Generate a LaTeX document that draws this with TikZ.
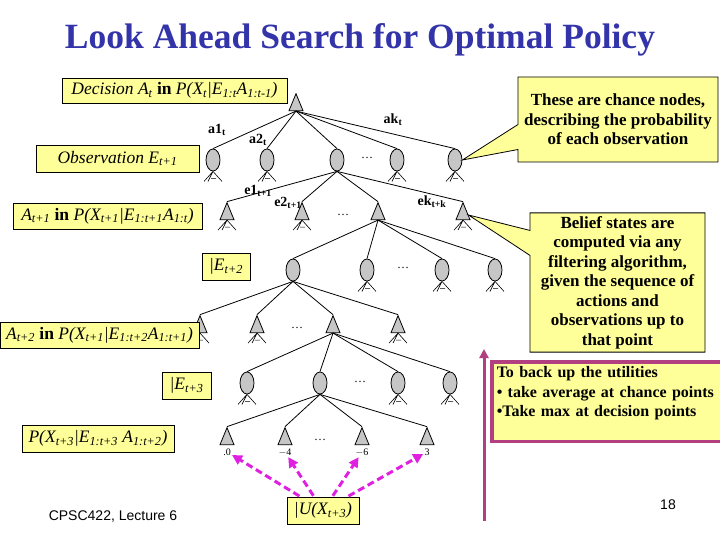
\documentclass[tikz,border=0pt]{standalone}
\usepackage{fontspec}
\setmainfont{Liberation Serif}
\setsansfont{Liberation Sans}
\usetikzlibrary{shapes.geometric,shapes.callouts,positioning,arrows.meta}
\definecolor{notefill}{RGB}{255,255,153}
\definecolor{titleblue}{RGB}{51,51,170}
\definecolor{backmag}{RGB}{224,32,224}
\definecolor{backplum}{RGB}{178,64,128}
\newcommand{\sub}[1]{\textsubscript{#1}}
\tikzset{
  decision/.style={isosceles triangle, shape border rotate=90, isosceles triangle stretches,
    minimum width=14pt, minimum height=17pt, draw, fill=gray!45, inner sep=0pt},
  chance/.style={ellipse, draw, fill=gray!45, minimum width=14pt, minimum height=22pt, inner sep=0pt},
  notebox/.style={draw, fill=notefill, inner sep=0pt, font=\fontsize{17.5}{20}\selectfont\itshape},
  notecall/.style={rectangle callout, draw, fill=notefill, align=center, callout pointer width=25pt,
    font=\fontsize{17}{19.5}\selectfont\bfseries},
  edgelab/.style={font=\fontsize{14}{16}\selectfont\bfseries, inner sep=0pt},
  moredots/.style={font=\fontsize{12}{14}\selectfont, inner sep=0pt},
  leafval/.style={font=\fontsize{10}{12}\selectfont, inner sep=0pt},
  backup/.style={backmag, line width=3pt, dash pattern=on 7pt off 4pt,
    -{Triangle[length=10pt,width=10pt]}, shorten >=1pt, shorten <=1pt}
}
\begin{document}
\begin{tikzpicture}[x=1pt,y=-1pt,line width=0.8pt]
\useasboundingbox (0,0) rectangle (720,540);
\node (title) at (360,40) [font=\fontsize{35.5}{40}\selectfont\bfseries, text=titleblue] {Look Ahead Search for Optimal Policy};
% decision tree
\node (r) at (296,106) [decision] {};
\node (c1) at (213,160) [chance] {};
\node (c2) at (267,160) [chance] {};
\node (c3) at (337,160) [chance] {};
\node (c4) at (397,160) [chance] {};
\node (c5) at (455,160) [chance] {};
\node (t1) at (227,215) [decision] {};
\node (t2) at (302,215) [decision] {};
\node (t3) at (378,215) [decision] {};
\node (t4) at (463,215) [decision] {};
\node (s1) at (293,270) [chance] {};
\node (s2) at (367,270) [chance] {};
\node (s3) at (442,270) [chance] {};
\node (s4) at (495,270) [chance] {};
\node (u1) at (200,328) [decision] {};
\node (u2) at (257,328) [decision] {};
\node (u3) at (333,328) [decision] {};
\node (u4) at (398,328) [decision] {};
\node (v1) at (247,383) [chance] {};
\node (v2) at (320,383) [chance] {};
\node (v3) at (398,383) [chance] {};
\node (v4) at (450,383) [chance] {};
\node (w1) at (227,440) [decision] {};
\node (w2) at (285,440) [decision] {};
\node (w3) at (362,440) [decision] {};
\node (w4) at (427,440) [decision] {};
\node (dots1) at (367,158) [moredots] {\dots};
\node (dots2) at (343,215) [moredots] {\dots};
\node (dots3) at (403,268) [moredots] {\dots};
\node (dots4) at (297,328) [moredots] {\dots};
\node (dots5) at (360,382) [moredots] {\dots};
\node (dots6) at (320,440) [moredots] {\dots};
\foreach \n in {c1,c2,c3,c4,c5} \draw (r.lower side) -- (\n.north);
\foreach \n in {t1,t2,t3,t4} \draw (c3.south) -- (\n.apex);
\foreach \n in {s1,s2,s3,s4} \draw (t3.lower side) -- (\n.north);
\foreach \n in {u1,u2,u3,u4} \draw (s1.south) -- (\n.apex);
\foreach \n in {v1,v2,v3,v4} \draw (u3.lower side) -- (\n.north);
\foreach \n in {w1,w2,w3,w4} \draw (v2.south) -- (\n.apex);
% unexpanded subtrees
\foreach \n in {c1.south,c2.south,c4.south,c5.south,t1.lower side,t2.lower side,t4.lower side,
    s2.south,s3.south,s4.south,u1.lower side,u2.lower side,u4.lower side,v1.south,v3.south,v4.south}
  \draw[line width=0.6pt] (\n) -- +(-9,10) (\n) -- +(-5,10) (\n) -- +(9,10)
    (\n) +(-2,7) -- +(3,7);
\node (a1) at (217,130) [edgelab] {a1\sub{t}};
\node (a2) at (258,140) [edgelab] {a2\sub{t}};
\node (ak) at (393,120) [edgelab] {ak\sub{t}};
\node (e1) at (258,191) [edgelab] {e1\sub{t+1}};
\node (e2) at (288,203) [edgelab] {e2\sub{t+1}};
\node (ek) at (432,202) [edgelab] {ek\sub{t+k}};
\node (l1) [below=3pt of w1, leafval] {.0};
\node (l2) [below=3pt of w2, leafval] {$-$4};
\node (l3) [below=3pt of w3, leafval] {$-$6};
\node (l4) [below=3pt of w4, leafval] {3};
% notes on the left
\node (decbox) at (174.5,90.5) [notebox, minimum width=225pt, minimum height=25pt] {Decision A\sub{t} \textbf{\upshape in} P(X\sub{t}|E\sub{1:t}A\sub{1:t-1})};
\node (obsbox) at (117.5,158.5) [notebox, minimum width=163pt, minimum height=27pt] {Observation E\sub{t+1}};
\node (dec1box) at (107.5,216) [notebox, minimum width=189pt, minimum height=26pt] {A\sub{t+1} \textbf{\upshape in} P(X\sub{t+1}|E\sub{1:t+1}A\sub{1:t})};
\node (obs2box) at (226,266.5) [notebox, minimum width=48pt, minimum height=27pt] {|E\sub{t+2}};
\node (dec2box) at (99.5,335) [notebox, minimum width=199pt, minimum height=26pt] {A\sub{t+2} \textbf{\upshape in} P(X\sub{t+1}|E\sub{1:t+2}A\sub{1:t+1})};
\node (obs3box) at (186.5,385.5) [notebox, minimum width=49pt, minimum height=27pt] {|E\sub{t+3}};
\node (probbox) at (98,438.5) [notebox, minimum width=152pt, minimum height=27pt] {P(X\sub{t+3}|E\sub{1:t+3} A\sub{1:t+2})};
\node (ubox) at (323,510.5) [notebox, minimum width=72pt, minimum height=27pt] {|U(X\sub{t+3})};
\foreach \n in {l1,l2,l3,l4} \draw[backup] (ubox) -- (\n);
% notes on the right
\node (chancenote) at (618,119.5) [notecall, minimum width=200pt, minimum height=85pt,
  callout absolute pointer={(c5.east)}] {These are chance nodes,\\describing the probability\\of each observation};
\node (beliefnote) at (617.5,282.5) [notecall, minimum width=175pt, minimum height=131pt,
  callout absolute pointer={(t4.east)}] {Belief states are\\computed via any\\filtering algorithm,\\given the sequence of\\actions and\\observations up to\\that point};
\coordinate (upfoot) at (484,521);
\coordinate (uphead) at (484,349);
\draw[backplum, line width=3pt, -{Triangle[length=9pt,width=9pt]}] (upfoot) -- (uphead);
\node (backnote) at (490,360) [anchor=north west, draw=backplum, line width=3.5pt, fill=notefill,
  text width=226pt, inner xsep=5pt, inner ysep=5pt, align=left,
  font=\fontsize{16}{19.5}\selectfont\bfseries] {To back up the utilities\\\textbullet\ take average at chance points\\\textbullet Take max at decision points\\\mbox{}};
\node (footer) at (113,517) [font=\sffamily\fontsize{14}{16}\selectfont] {CPSC422, Lecture 6};
\node (pagenum) at (668,505) [font=\sffamily\fontsize{14}{16}\selectfont] {18};
\end{tikzpicture}
\end{document}
